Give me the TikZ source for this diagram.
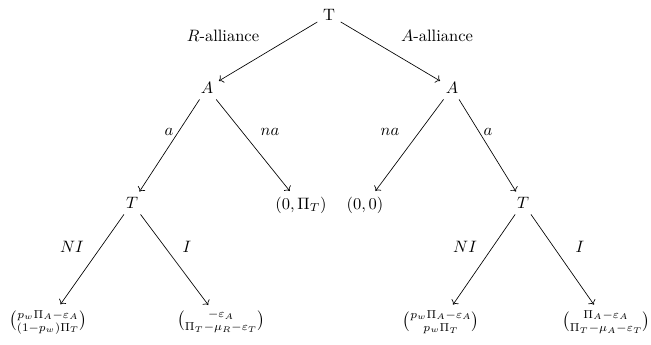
\documentclass[tikz,border=0pt]{standalone}
\usetikzlibrary{arrows.meta}
\usepackage{amsmath}
\tikzset{
  dec/.style={inner sep=3.3pt},
  leaf/.style={inner sep=3.3pt},
  arr/.style={->, line width=0.4pt},
  lbl/.style={inner sep=1pt},
}
\begin{document}
\begin{tikzpicture}[x=0.606pt,y=-0.606pt]
  \useasboundingbox (0,0) rectangle (651,344);
  \clip (0,0) rectangle (651,344);
  % decision nodes
  \node[dec] (root) at (329,15) {T};
  \node[dec] (ar) at (207,88) {$A$};
  \node[dec] (aa) at (452,88) {$A$};
  \node[dec] (tr) at (132,203) {$T$};
  \node[dec] (ta) at (523,203) {$T$};
  % payoffs
  \node[leaf] (pr) at (301,205) {$(0,\Pi_T)$};
  \node[leaf] (pa) at (365,205) {$(0,0)$};
  \node[leaf] (rni) at (48,322) {$\binom{p_w\Pi_A-\varepsilon_A}{(1-p_w)\Pi_T}$};
  \node[leaf] (ri) at (221,322) {$\binom{-\varepsilon_A}{\Pi_T-\mu_R-\varepsilon_T}$};
  \node[leaf] (ani) at (441,322) {$\binom{p_w\Pi_A-\varepsilon_A}{p_w\Pi_T}$};
  \node[leaf] (ai) at (606,322) {$\binom{\Pi_A-\varepsilon_A}{\Pi_T-\mu_A-\varepsilon_T}$};
  % moves
  \foreach \nm/\x/\y/\t in {
      lr/223/36/{$R$-alliance},
      la/437/36/{$A$-alliance},
      lar/169/132/{$a$},
      lnar/270/132/{$na$},
      lnaa/390/132/{$na$},
      laa/488/132/{$a$},
      lnir/72/247/{$NI$},
      lir/187/247/{$I$},
      lnia/465/247/{$NI$},
      lia/580/247/{$I$}}{
    \node[lbl] (\nm) at (\x,\y) {\t};
  }
  \draw[arr] (root) -- (ar);
  \draw[arr] (root) -- (aa);
  \draw[arr] (ar) -- (tr);
  \draw[arr] (ar) -- (pr);
  \draw[arr] (aa) -- (pa);
  \draw[arr] (aa) -- (ta);
  \draw[arr] (tr) -- (rni);
  \draw[arr] (tr) -- (ri);
  \draw[arr] (ta) -- (ani);
  \draw[arr] (ta) -- (ai);
\end{tikzpicture}
\end{document}
